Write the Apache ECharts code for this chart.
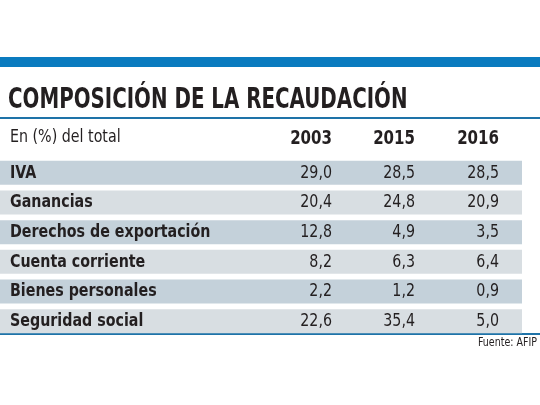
<!DOCTYPE html><html><head><meta charset="utf-8"><script src="https://cdn.jsdelivr.net/npm/echarts@6/dist/echarts.min.js"></script>
<style>body{margin:0;background:#fff}#c{width:540px;height:405px}</style></head><body><div id="c"></div><script>
const categories=["IVA","Ganancias","Derechos de exportación","Cuenta corriente","Bienes personales","Seguridad social"];
const years=["2003","2015","2016"];
const v2003=["29,0","20,4","12,8","8,2","2,2","22,6"];
const v2015=["28,5","24,8","4,9","6,3","1,2","35,4"];
const v2016=["28,5","20,9","3,5","6,4","0,9","5,0"];
const F="'Liberation Sans Narrow','DejaVu Sans Condensed',sans-serif";
const colX=[332,415,499];
const rows=categories.map((c,i)=>[i,c,v2003[i],v2015[i],v2016[i]]);
const ch=echarts.init(document.getElementById('c'));
ch.setOption({
 animation:false,
 grid:{left:0,right:0,top:158,height:178},
 xAxis:{type:'value',min:0,max:540,show:false},
 yAxis:{type:'category',data:categories,inverse:true,show:false},
 graphic:[
  {type:'rect',shape:{x:0,y:57,width:540,height:10},style:{fill:'#0a7bbf'}},
  {type:'text',x:8,y:100,scaleX:0.76,style:{text:'COMPOSICIÓN DE LA RECAUDACIÓN',font:"bold 29px "+F,fill:'#231f20',verticalAlign:'middle'}},
  {type:'rect',shape:{x:0,y:117,width:540,height:2},style:{fill:'#1e73a8'}},
  {type:'text',x:10,y:137,scaleX:0.88,style:{text:'En (%) del total',font:"18px "+F,fill:'#231f20',verticalAlign:'middle'}},
  ...years.map((y,i)=>({type:'text',x:colX[i],y:139,scaleX:0.88,style:{text:y,font:"bold 19px "+F,fill:'#231f20',align:'right',verticalAlign:'middle'}})),
  {type:'rect',shape:{x:0,y:333,width:540,height:2},style:{fill:'#1e73a8'}},
  {type:'text',x:537,y:343,scaleX:0.88,style:{text:'Fuente: AFIP',font:"12px "+F,fill:'#231f20',align:'right',verticalAlign:'middle'}}
 ],
 series:[{type:'custom',data:rows,encode:{y:0},renderItem:(p,api)=>{
   const i=api.value(0);const yc=api.coord([0,i])[1];
   const r=rows[i];
   const ch=[{type:'rect',shape:{x:0,y:yc-12,width:522,height:24},style:{fill:i%2===0?'#c4d1da':'#d8dee2'}},
     {type:'text',x:10,y:yc,scaleX:0.88,style:{text:r[1],font:"bold 18px "+F,fill:'#231f20',verticalAlign:'middle'}}];
   for(let k=0;k<3;k++)ch.push({type:'text',x:colX[k],y:yc,scaleX:0.88,style:{text:r[2+k],font:"18px "+F,fill:'#231f20',align:'right',verticalAlign:'middle'}});
   return {type:'group',children:ch};
 }}]
});
</script></body></html>
